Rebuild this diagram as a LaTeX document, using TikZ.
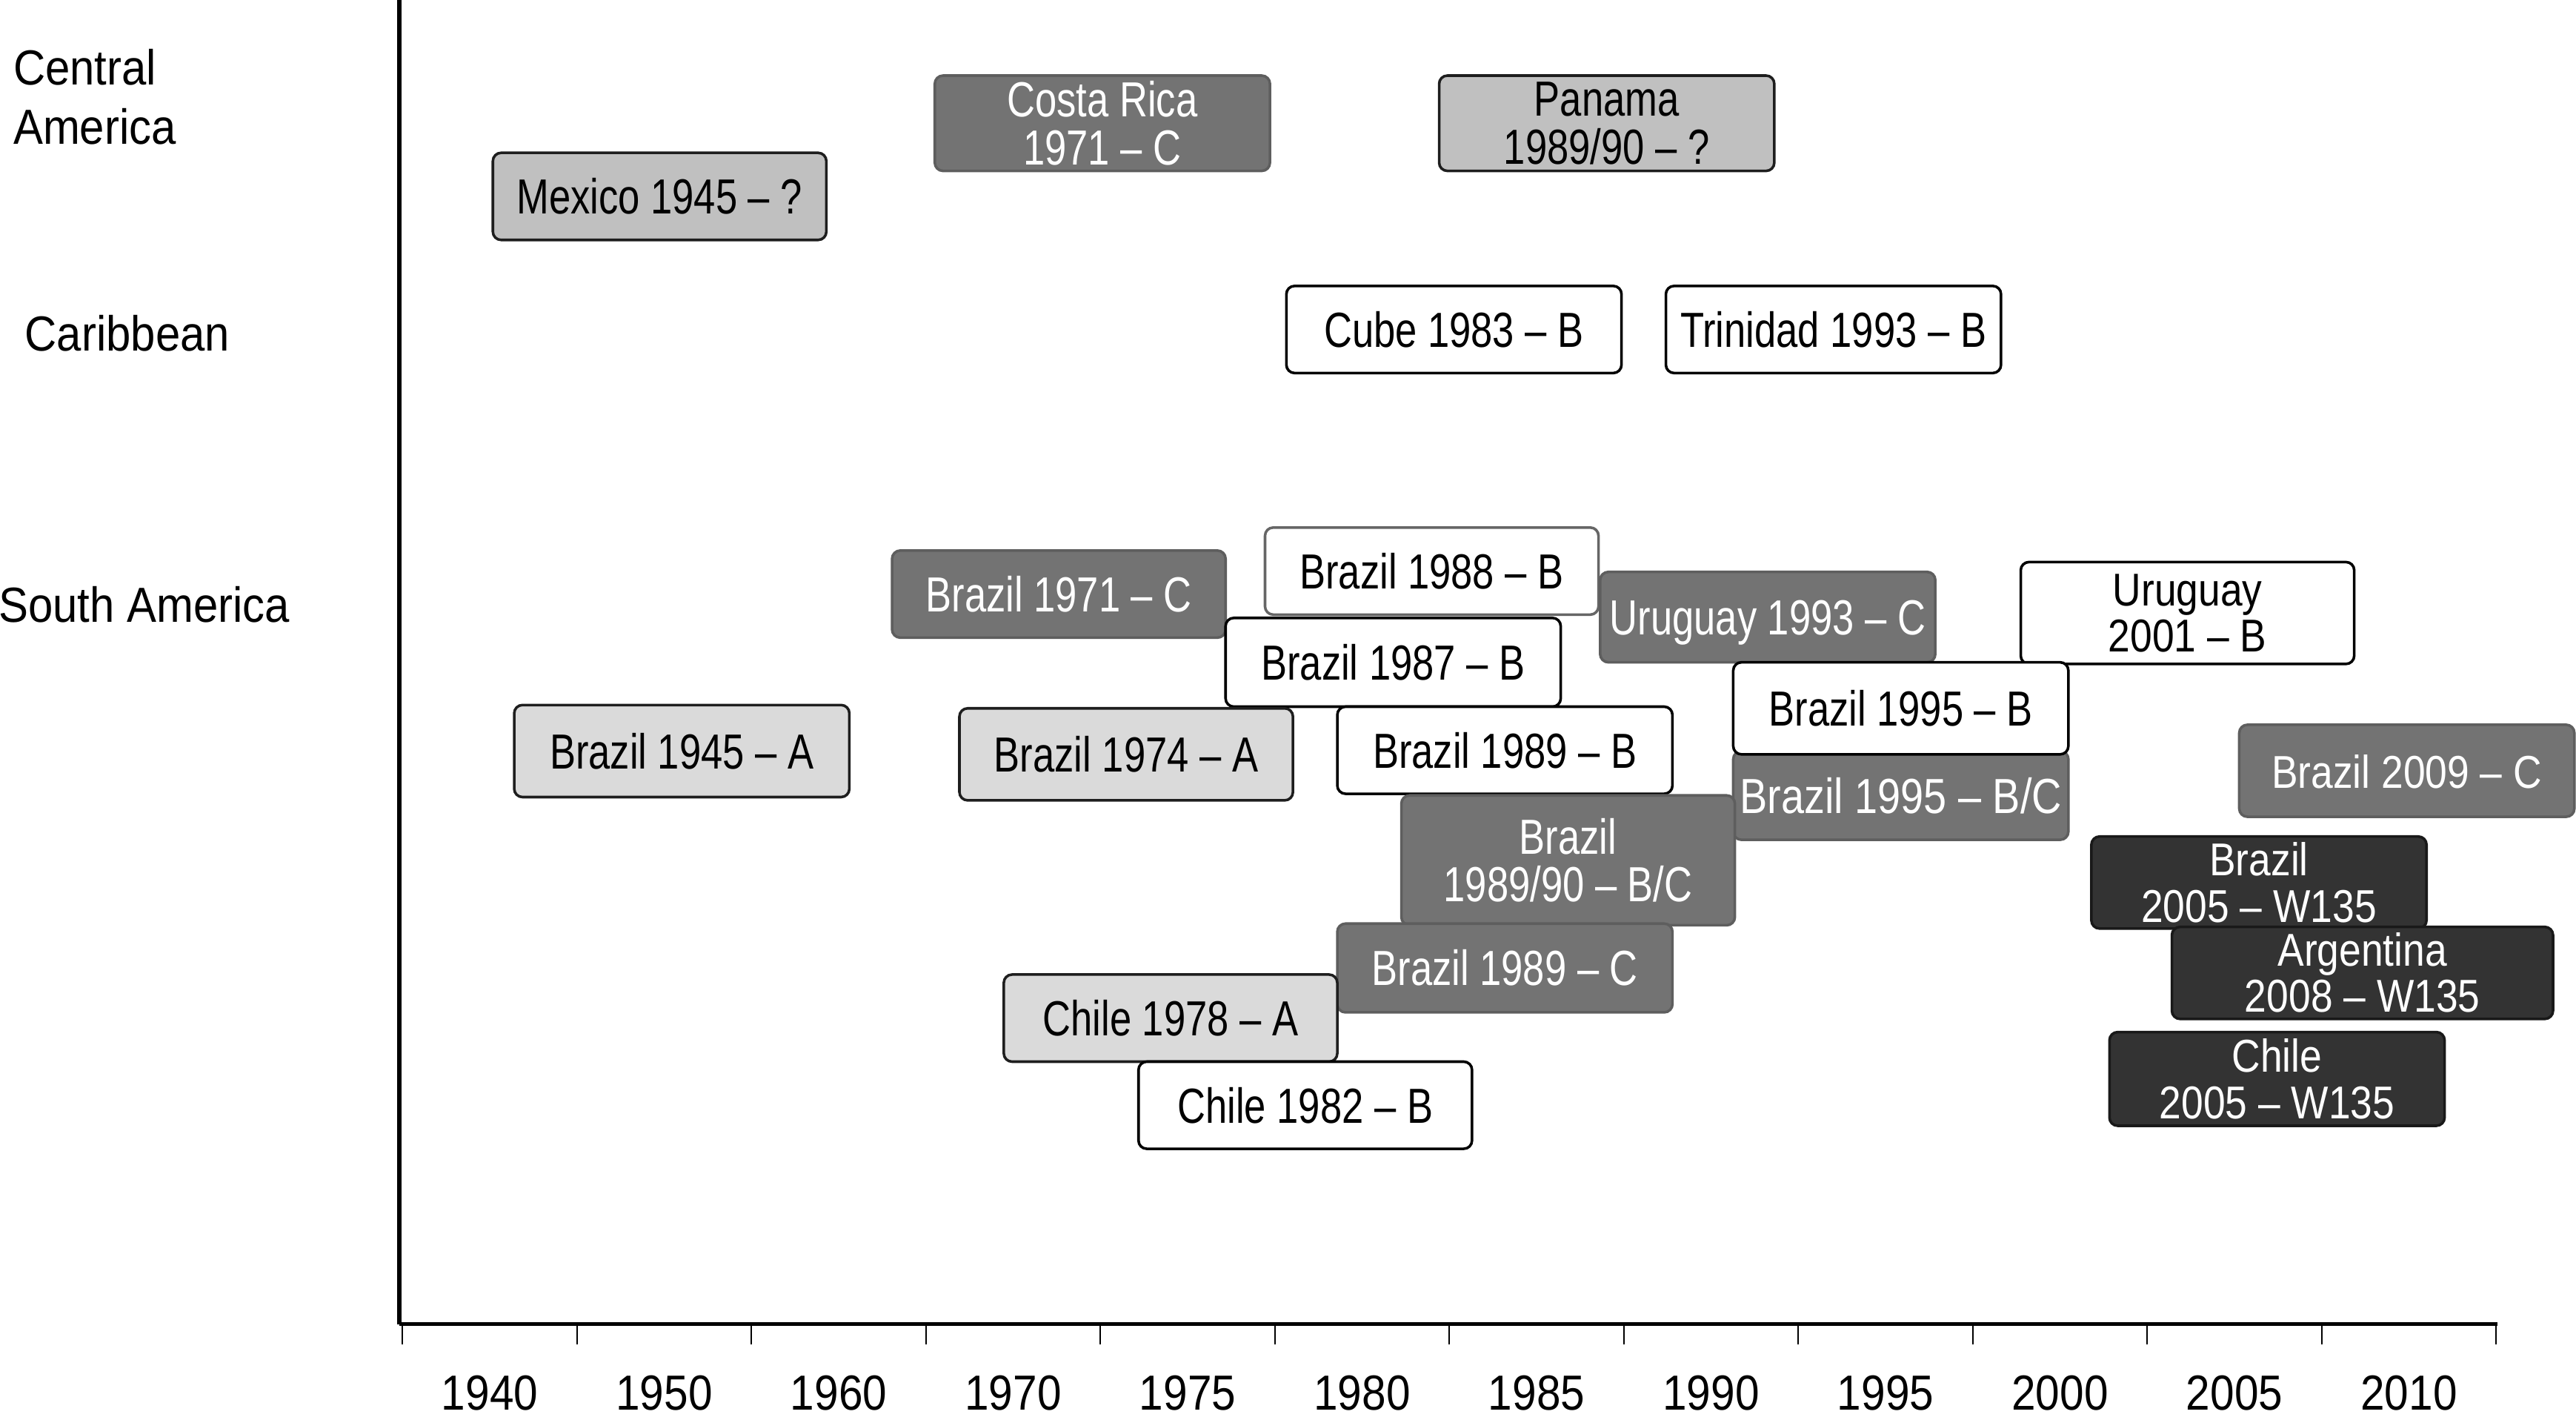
\documentclass[tikz,border=0pt]{standalone}
\usepackage{fontspec}
\setmainfont{Liberation Sans}
\newfontfamily\narrowfont{Liberation Sans}[FakeStretch=0.79]
\newfontfamily\widenarrowfont{Liberation Sans}[FakeStretch=0.84]
\newfontfamily\midfont{Liberation Sans}[FakeStretch=0.86]
\newfontfamily\regfont{Liberation Sans}[FakeStretch=0.9]
\newfontfamily\yearfont{Liberation Sans}[FakeStretch=0.88]
\definecolor{fillA}{HTML}{DADADA}
\definecolor{fillQ}{HTML}{C0C0C0}
\definecolor{fillC}{HTML}{737373}
\definecolor{fillW}{HTML}{333333}
\definecolor{edgeC}{HTML}{5E5E5E}
\definecolor{edgeD}{HTML}{1E1E1E}
\begin{document}
\begin{tikzpicture}[x=1pt,y=-1pt,
  tlbox/.style={rounded corners=5pt, line width=1.6pt, inner sep=0pt, align=center,
    font=\narrowfont\fontsize{30}{29}\selectfont},
  oneline/.style={text height=21.5pt, text depth=0pt},
  bbox/.style={tlbox, draw=black, fill=white, text=black},
  abox/.style={tlbox, draw=edgeD, fill=fillA, text=black},
  qbox/.style={tlbox, draw=edgeD, fill=fillQ, text=black},
  cbox/.style={tlbox, draw=edgeC, fill=fillC, text=white},
  wbox/.style={tlbox, draw=black!90, fill=fillW, text=white},
  midtext/.style={font=\midfont\fontsize{28}{28}\selectfont},
  region/.style={anchor=west, align=left, inner sep=0pt, font=\regfont\fontsize{30}{36}\selectfont},
  yearlab/.style={inner sep=0pt, font=\yearfont\fontsize{30}{30}\selectfont, text height=21.5pt, text depth=0pt}
]
\useasboundingbox[fill=white] (0,0) rectangle (1568,863.6);

% axes
\draw[line width=3pt] (243,0) -- (243,806);
\draw[line width=2.4pt] (243,805.5) -- (1520,805.5);
\foreach \i in {0,...,12} \draw[line width=1pt] ({245+106.2*\i},806) -- ({245+106.2*\i},818);
\foreach \y [count=\k from 0] in {1940,1950,1960,1970,1975,1980,1985,1990,1995,2000,2005,2010}
  \node[yearlab] (y\y) at ({245+106.2*(\k+0.5)},847) {\y};

% regions
\node[region] (central) at (8,59) {Central\\America};
\node[region, text height=21.5pt, text depth=0pt] (carib) at (15,203) {Caribbean};
\node[region, text height=21.5pt, text depth=0pt] (south) at (-1,368) {South America};

% Central America
\node[qbox, oneline, minimum width=203pt, minimum height=53pt] (mexico) at (401.5,119.5) {Mexico 1945 – ?};
\node[cbox, minimum width=204pt, minimum height=58pt] (costarica) at (671,75) {Costa Rica\\1971 – C};
\node[qbox, minimum width=204pt, minimum height=58pt] (panama) at (978,75) {Panama\\1989/90 – ?};

% Caribbean
\node[bbox, oneline, minimum width=204pt, minimum height=53pt] (cube) at (885,200.5) {Cube 1983 – B};
\node[bbox, oneline, minimum width=204pt, minimum height=53pt] (trinidad) at (1116,200.5) {Trinidad 1993 – B};

% South America
\node[cbox, oneline, minimum width=203pt, minimum height=53pt] (br1971) at (644.5,361.5) {Brazil 1971 – C};
\node[bbox, oneline, draw=black!60, minimum width=203pt, minimum height=53pt] (br1988) at (871.5,347.5) {Brazil 1988 – B};
\node[bbox, oneline, minimum width=204pt, minimum height=54pt] (br1987) at (848,403) {Brazil 1987 – B};
\node[cbox, oneline, minimum width=204pt, minimum height=55pt] (ur1993) at (1076,375.5) {Uruguay 1993 – C};
\node[bbox, midtext, minimum width=203pt, minimum height=62pt] (ur2001) at (1331.5,373) {Uruguay\\2001 – B};
\node[abox, oneline, minimum width=204pt, minimum height=56pt] (br1945) at (415,457) {Brazil 1945 – A};
\node[abox, oneline, minimum width=203pt, minimum height=56pt] (br1974) at (685.5,459) {Brazil 1974 – A};
\node[bbox, oneline, minimum width=204pt, minimum height=53pt] (br1989b) at (916,456.5) {Brazil 1989 – B};
\node[cbox, oneline, font=\widenarrowfont\fontsize{30}{29}\selectfont, minimum width=204pt, minimum height=54pt] (br1995bc) at (1157,484) {Brazil 1995 – B/C};
\node[bbox, oneline, minimum width=204pt, minimum height=56pt] (br1995b) at (1157,431) {Brazil 1995 – B};
\node[cbox, oneline, midtext, minimum width=204pt, minimum height=56pt] (br2009) at (1465,469) {Brazil 2009 – C};
\node[cbox, minimum width=203pt, minimum height=79pt] (br8990) at (954.5,523.5) {Brazil\\1989/90 – B/C};
\node[wbox, midtext, minimum width=204pt, minimum height=56pt] (br2005) at (1375,537) {Brazil\\2005 – W135};
\node[wbox, midtext, minimum width=232pt, minimum height=56pt] (ar2008) at (1438,592) {Argentina\\2008 – W135};
\node[cbox, oneline, minimum width=204pt, minimum height=54pt] (br1989c) at (916,589) {Brazil 1989 – C};
\node[abox, oneline, minimum width=203pt, minimum height=53pt] (ch1978) at (712.5,619.5) {Chile 1978 – A};
\node[wbox, midtext, minimum width=204pt, minimum height=57pt] (ch2005) at (1386,656.5) {Chile\\2005 – W135};
\node[bbox, oneline, minimum width=203pt, minimum height=53pt] (ch1982) at (794.5,672.5) {Chile 1982 – B};
\end{tikzpicture}
\end{document}
